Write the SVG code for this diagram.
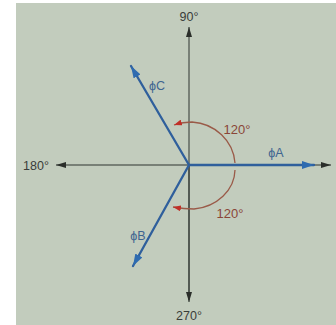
<svg xmlns="http://www.w3.org/2000/svg" width="336" height="325" viewBox="0 0 336 325">
<style>
.ax{stroke:#2f3530;stroke-width:1;fill:none}
.ph{stroke:#2f5f9c;stroke-width:2.3;fill:none;stroke-linecap:round}
.arc{stroke:#9a5a48;stroke-width:1.3;fill:none}
.t{font-family:"Liberation Sans",Arial,sans-serif;font-size:12.5px;fill:#3a3d3a}
.tb{font-family:"Liberation Sans",Arial,sans-serif;font-size:12.5px;fill:#3e6590}
.tr{font-family:"Liberation Sans",Arial,sans-serif;font-size:13px;fill:#8a4638}
</style>
<defs>
<marker id="ka" viewBox="0 0 10 6" refX="10" refY="3" markerWidth="10" markerHeight="6" markerUnits="userSpaceOnUse" orient="auto"><path d="M0,0L10,3L0,6z" fill="#2a2e2a"/></marker>
<marker id="ba" viewBox="0 0 12 8" refX="12" refY="4" markerWidth="12" markerHeight="8" markerUnits="userSpaceOnUse" orient="auto"><path d="M0,0L12,4L0,8z" fill="#2e6bb0"/></marker>
<marker id="ra" viewBox="0 0 8 6" refX="8" refY="3" markerWidth="8" markerHeight="6" markerUnits="userSpaceOnUse" orient="auto"><path d="M0,0L8,3L0,6z" fill="#c03028"/></marker>
</defs>
<rect width="336" height="325" fill="#ffffff"/>
<rect x="16" y="3" width="320" height="322" fill="#c2ccbd"/>
<g id="connectors">
<line class="ax" x1="189" y1="300" x2="189" y2="27" marker-end="url(#ka)"/>
<line class="ax" x1="189" y1="165" x2="189" y2="302" marker-end="url(#ka)"/>
<line class="ax" x1="189" y1="165" x2="56" y2="165" marker-end="url(#ka)"/>
<line class="ax" x1="189" y1="165" x2="331" y2="165" marker-end="url(#ka)"/>
<line class="ph" x1="189" y1="165" x2="314" y2="165" marker-end="url(#ba)"/>
<line class="ph" x1="189" y1="165" x2="131" y2="66" marker-end="url(#ba)"/>
<line class="ph" x1="189" y1="165" x2="133" y2="266" marker-end="url(#ba)"/>
<path class="arc" d="M235,163 A46,44 0 0 0 192,122 Q183,122 174,125" marker-end="url(#ra)"/>
<path class="arc" d="M235,170 A46,40 0 0 1 194,209 Q184,209 173,207" marker-end="url(#ra)"/>
</g>
<g id="labels">
<text class="t" x="189" y="21" text-anchor="middle">90°</text>
<text class="t" x="189" y="320" text-anchor="middle">270°</text>
<text class="t" x="36" y="170" text-anchor="middle">180°</text>
<text class="tb" x="276" y="157" text-anchor="middle">ϕA</text>
<text class="tb" x="157" y="90" text-anchor="middle">ϕC</text>
<text class="tb" x="138" y="240" text-anchor="middle">ϕB</text>
<text class="tr" x="237" y="134" text-anchor="middle">120°</text>
<text class="tr" x="230" y="218" text-anchor="middle">120°</text>
</g>
</svg>
